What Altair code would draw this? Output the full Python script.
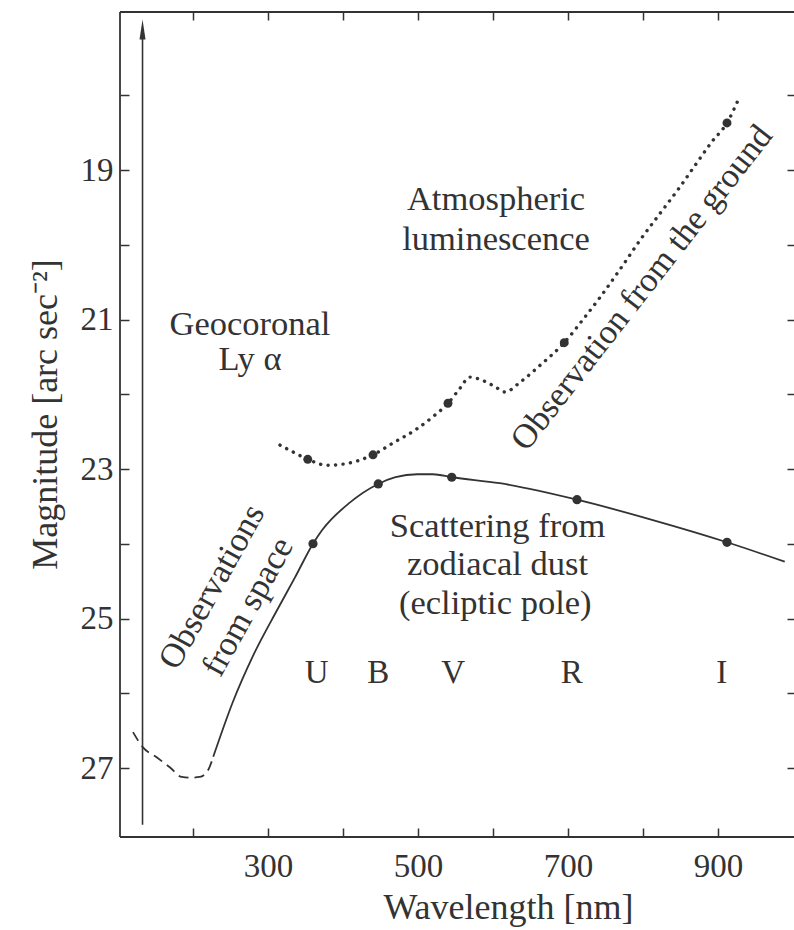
import altair as alt
import pandas as pd

FONT = "Liberation Serif"
INK = "#333333"

# Plot-area extent in data units: wavelength [nm] and surface brightness [mag / arcsec^2]
X_MIN, X_MAX = 102.67, 1001.33
Y_TOP, Y_BOTTOM = 16.886, 27.923

# Zodiacal-light spectrum observed from space (solid part)
space_wl = [227, 253, 280, 312, 336, 360, 372, 409, 447, 470, 499, 520, 545, 609, 712, 812, 912, 989]
space_mag = [26.85, 26.12, 25.50, 24.89, 24.45, 24.0, 23.82, 23.45, 23.20, 23.11, 23.07, 23.07, 23.11,
             23.19, 23.41, 23.68, 23.98, 24.24]

# Far-UV continuation (dashed part)
uv_wl = [120, 133, 152, 169, 185, 196, 209, 220, 227]
uv_mag = [26.52, 26.72, 26.86, 26.99, 27.12, 27.13, 27.12, 27.03, 26.85]

# Night-sky brightness observed from the ground (dotted)
ground_wl = [316, 333, 353, 379, 403, 440, 467, 496, 520, 540, 556, 569, 585, 603, 616, 636, 663, 695,
             720, 743, 770, 796, 822, 849, 870, 892, 912, 927]
ground_mag = [22.68, 22.77, 22.87, 22.95, 22.93, 22.81, 22.65, 22.48, 22.30, 22.12, 21.92, 21.77, 21.81,
              21.90, 21.97, 21.84, 21.61, 21.31, 21.00, 20.70, 20.32, 19.94, 19.59, 19.23, 18.93, 18.62,
              18.37, 18.06]

# Broad-band points
band_names = ["U", "B", "V", "R", "I"]
space_band_wl = [360, 447, 545, 712, 912]
space_band_mag = [24.00, 23.20, 23.11, 23.41, 23.98]
ground_band_wl = [353, 440, 540, 695, 912]
ground_band_mag = [22.87, 22.81, 22.12, 21.31, 18.37]
band_label_wl = [365, 447, 547, 705, 905]
band_label_mag = 25.86

# Axis ticks
x_ticks = [200, 300, 400, 500, 600, 700, 800, 900]
y_ticks = [18, 19, 20, 21, 22, 23, 24, 25, 26, 27]

# Vertical arrow on the left
arrow_wl = 132.7
arrow_from, arrow_to, arrow_head = 27.76, 17.2, 17.12

xs = alt.Scale(domain=[X_MIN, X_MAX], nice=False, zero=False)
ys = alt.Scale(domain=[Y_TOP, Y_BOTTOM], nice=False, zero=False, reverse=True)


def X(field, axis=None):
    return alt.X(field, type="quantitative", scale=xs, axis=axis)


def Y(field, axis=None):
    return alt.Y(field, type="quantitative", scale=ys, axis=axis)


bottom_axis = alt.Axis(
    orient="bottom", values=x_ticks, grid=False, domain=False, offset=-9, tickSize=9,
    tickColor=INK, tickWidth=1.5,
    labelExpr="datum.value % 200 == 100 ? datum.label : ''",
    labelFont=FONT, labelFontSize=33, labelColor=INK, labelPadding=13,
    title="Wavelength [nm]", titleFont=FONT, titleFontSize=36, titleFontWeight="normal",
    titleColor=INK, titleX=388, titleY=90, titleAlign="center", titleBaseline="alphabetic",
)
left_axis = alt.Axis(
    orient="left", values=y_ticks, grid=False, domain=False, offset=-9, tickSize=9,
    tickColor=INK, tickWidth=1.5,
    labelExpr="datum.value % 2 == 1 ? datum.label : ''",
    labelFont=FONT, labelFontSize=33, labelColor=INK, labelPadding=7,
    title="Magnitude [arc sec⁻²]", titleFont=FONT, titleFontSize=36, titleFontWeight="normal",
    titleColor=INK, titleX=-73, titleY=402, titleAngle=270, titleAlign="center",
    titleBaseline="alphabetic",
)
top_axis = alt.Axis(
    orient="top", values=x_ticks, grid=False, domain=False, labels=False, offset=-8,
    tickSize=8, tickColor=INK, tickWidth=1.5, title=None,
)
right_axis = alt.Axis(
    orient="right", values=y_ticks, grid=False, domain=False, labels=False, offset=-7,
    tickSize=7, tickColor=INK, tickWidth=1.5, title=None,
)

space_df = pd.DataFrame({"wl": space_wl, "mag": space_mag})
uv_df = pd.DataFrame({"wl": uv_wl, "mag": uv_mag})
ground_df = pd.DataFrame({"wl": ground_wl, "mag": ground_mag})
space_pts = pd.DataFrame({"wl": space_band_wl, "mag": space_band_mag})
ground_pts = pd.DataFrame({"wl": ground_band_wl, "mag": ground_band_mag})
band_df = pd.DataFrame({"wl": band_label_wl, "mag": [band_label_mag] * 5, "t": band_names})

# Frame: left, top and bottom edges of the plot area
frame_df = pd.DataFrame({
    "x": [X_MIN, X_MIN, X_MIN],
    "x2": [X_MIN, X_MAX, X_MAX],
    "y": [Y_TOP, Y_TOP, Y_BOTTOM],
    "y2": [Y_BOTTOM, Y_TOP, Y_BOTTOM],
})

solid = alt.Chart(space_df).mark_line(
    color=INK, strokeWidth=1.8, interpolate="monotone"
).encode(x=X("wl", bottom_axis), y=Y("mag", left_axis))

frame = alt.Chart(frame_df).mark_rule(color=INK, strokeWidth=1.8).encode(
    x=X("x", top_axis), x2="x2", y=Y("y", right_axis), y2="y2"
)

dashed = alt.Chart(uv_df).mark_line(
    color=INK, strokeWidth=1.8, strokeDash=[10, 6], interpolate="monotone"
).encode(x=X("wl"), y=Y("mag"))

dotted = alt.Chart(ground_df).mark_line(
    color=INK, strokeWidth=3.4, strokeDash=[0.1, 7.4], strokeCap="round", interpolate="monotone"
).encode(x=X("wl"), y=Y("mag"))

space_dots = alt.Chart(space_pts).mark_point(
    filled=True, color=INK, opacity=1, size=85
).encode(x=X("wl"), y=Y("mag"))

ground_dots = alt.Chart(ground_pts).mark_point(
    filled=True, color=INK, opacity=1, size=80
).encode(x=X("wl"), y=Y("mag"))

arrow_df = pd.DataFrame({"wl": [arrow_wl], "a": [arrow_from], "b": [arrow_to], "h": [arrow_head]})
arrow_line = alt.Chart(arrow_df).mark_rule(color=INK, strokeWidth=1.6).encode(
    x=X("wl"), y=Y("a"), y2="b"
)
arrow_tip = alt.Chart(arrow_df).mark_point(
    shape="M0,-1L0.3,1L-0.3,1Z", filled=True, color=INK, opacity=1, size=400
).encode(x=X("wl"), y=Y("h"))


def label(rows, size=34.5, angle=0, baseline="alphabetic", line_height=None):
    df = pd.DataFrame(rows, columns=["wl", "mag", "t"])
    kw = dict(font=FONT, fontSize=size, color=INK, align="center", baseline=baseline, angle=angle)
    if line_height:
        kw.update(lineBreak="\n", lineHeight=line_height)
    return alt.Chart(df).mark_text(**kw).encode(x=X("wl"), y=Y("mag"), text="t:N")


texts = [
    label([(604, 19.535, "Atmospheric"), (604, 20.07, "luminescence")]),
    label([(276, 21.207, "Geocoronal"), (276, 21.676, "Ly α")]),
    label([(606, 23.91, "Scattering from"), (606, 24.418, "zodiacal dust"),
           (603, 24.94, "(ecliptic pole)")]),
    label([(226, 24.58, "Observations\nfrom space")], angle=299, baseline="middle", line_height=41),
    label([(799, 20.58, "Observation from the ground")], angle=308, baseline="middle"),
]

bands = alt.Chart(band_df).mark_text(
    font=FONT, fontSize=33, color=INK, align="center", baseline="alphabetic"
).encode(x=X("wl"), y=Y("mag"), text="t:N")

chart = alt.layer(
    solid, frame, dashed, dotted, space_dots, ground_dots, arrow_line, arrow_tip, bands, *texts
).resolve_axis(
    x="independent", y="independent"
).properties(
    width=674, height=825,
    padding={"left": 120, "top": 12, "right": 0, "bottom": 93},
    autosize=alt.AutoSizeParams(type="none"),
    background="white",
).configure_view(stroke=None)

chart.save("out.html", embed_options={"renderer": "svg", "actions": False})
